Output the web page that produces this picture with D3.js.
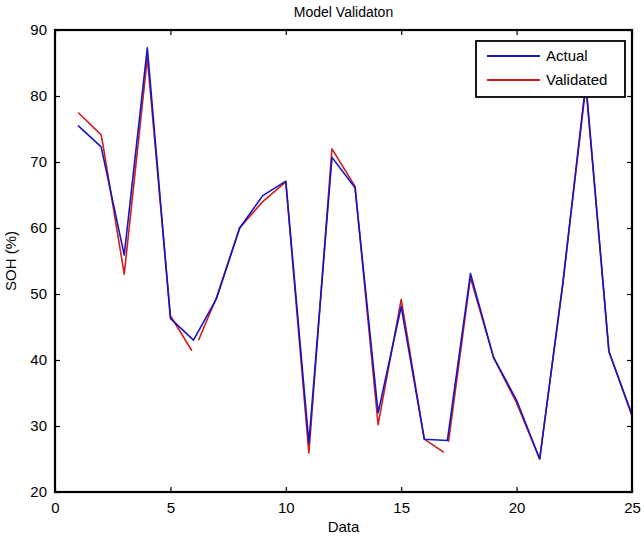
<!DOCTYPE html>
<html>
<head>
<meta charset="utf-8">
<script src="https://cdn.jsdelivr.net/npm/d3@7"></script>
<style>
  body { margin: 0; background: #fff; }
  text { font-family: "Liberation Sans", Arial, sans-serif; fill: #000; }
</style>
</head>
<body>
<svg id="chart" width="644" height="540"></svg>
<script>
// ---- data ----
const actualX = [1,2,3,4,5,6,7,8,9,10,11,12,13,14,15,16,17,18,19,20,21,22,23,24,25];
const actualY = [75.5,72.3,55.9,87.3,46.3,43.0,49.3,60.0,64.9,67.1,27.4,70.7,66.1,32.0,48.1,28.0,27.8,53.1,40.4,33.9,25.0,51.5,82.0,41.3,31.7];
// validated series is drawn in broken pieces (null = gap)
const validatedX = [1,2,2.08,3,4,5,5.93,null,6.22,7,8,9,10,11,12,13,14,15,16,16.85,null,17.05,18,19,20,21,22,23,24,25];
const validatedY = [77.5,74.1,72.6,53.0,85.8,46.7,41.4,null,43.0,49.5,60.0,64.0,67.0,25.9,72.0,66.3,30.2,49.2,28.0,26.0,null,27.6,52.5,40.4,33.5,25.0,51.5,81.5,41.3,31.5];
const xTicks = [0,5,10,15,20,25];
const yTicks = [20,30,40,50,60,70,80,90];
const seriesNames = ["Actual","Validated"];
const seriesColors = ["#1414c8","#d01c1c"];

// ---- layout ----
const L = 55, R = 632, T = 30, B = 492;
const svg = d3.select("#chart");
const x = d3.scaleLinear().domain([0,25]).range([L,R]);
const y = d3.scaleLinear().domain([20,90]).range([B,T]);

// lines
const line = d3.line()
  .defined(d => d[0] !== null && d[1] !== null)
  .x(d => x(d[0])).y(d => y(d[1]));

svg.append("path")
  .datum(validatedX.map((v,i) => [v, validatedY[i]]))
  .attr("d", line).attr("fill","none")
  .attr("stroke", seriesColors[1]).attr("stroke-width", 1.6)
  .attr("stroke-linejoin","round");

svg.append("path")
  .datum(actualX.map((v,i) => [v, actualY[i]]))
  .attr("d", line).attr("fill","none")
  .attr("stroke", seriesColors[0]).attr("stroke-width", 1.6)
  .attr("stroke-linejoin","round");

// axes (inward ticks, labels outside)
const tickLen = 5;
const axB = svg.append("g").attr("transform",`translate(0,${B})`)
  .call(d3.axisBottom(x).tickValues(xTicks).tickSizeInner(-tickLen).tickSizeOuter(0).tickPadding(10));
const axT = svg.append("g").attr("transform",`translate(0,${T})`)
  .call(d3.axisTop(x).tickValues(xTicks).tickSizeInner(-tickLen).tickSizeOuter(0).tickFormat(""));
const axL = svg.append("g").attr("transform",`translate(${L},0)`)
  .call(d3.axisLeft(y).tickValues(yTicks).tickSizeInner(-tickLen).tickSizeOuter(0).tickPadding(8));
const axR = svg.append("g").attr("transform",`translate(${R},0)`)
  .call(d3.axisRight(y).tickValues(yTicks).tickSizeInner(-tickLen).tickSizeOuter(0).tickFormat(""));

[axB,axT,axL,axR].forEach(a => {
  a.select(".domain").remove();
  a.selectAll(".tick line").attr("stroke","#000").attr("stroke-width",1.2);
  a.selectAll(".tick text").attr("font-size",15).attr("font-family","Liberation Sans, Arial, sans-serif");
});
axB.selectAll(".tick text").attr("dy","0.71em");

// frame
svg.append("rect").attr("x",L).attr("y",T).attr("width",R-L).attr("height",B-T)
  .attr("fill","none").attr("stroke","#000").attr("stroke-width",2.2);

// title & labels
svg.append("text").attr("x",(L+R)/2).attr("y",17).attr("text-anchor","middle")
  .attr("font-size",14).text("Model Validaton");
svg.append("text").attr("x",(L+R)/2).attr("y",532).attr("text-anchor","middle")
  .attr("font-size",15).text("Data");
svg.append("text").attr("transform",`translate(16,${(T+B)/2}) rotate(-90)`)
  .attr("text-anchor","middle").attr("font-size",15).text("SOH (%)");

// legend
const lg = svg.append("g");
lg.append("rect").attr("x",476).attr("y",41).attr("width",149).attr("height",56)
  .attr("fill","#fff").attr("stroke","#000").attr("stroke-width",1.8);
seriesNames.forEach((n,i) => {
  const yy = 56 + i*24;
  lg.append("line").attr("x1",487).attr("x2",540).attr("y1",yy).attr("y2",yy)
    .attr("stroke",seriesColors[i]).attr("stroke-width",2);
  lg.append("text").attr("x",546).attr("y",yy).attr("dy","0.35em")
    .attr("font-size",15).text(n);
});
</script>
</body>
</html>
